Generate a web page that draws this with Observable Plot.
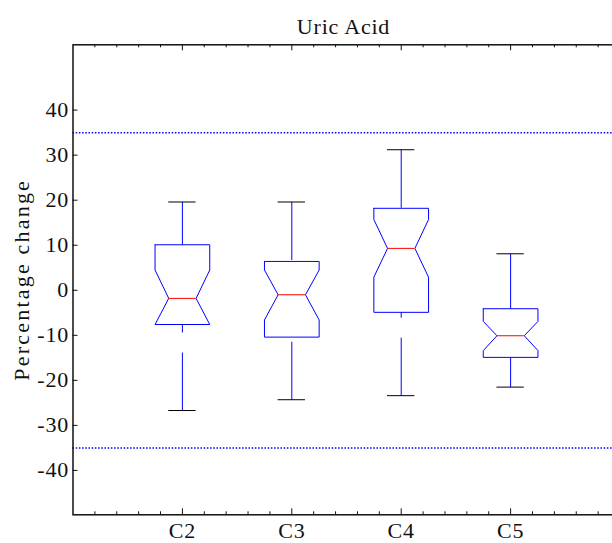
<!DOCTYPE html>
<html><head><meta charset="utf-8">
<script src="https://cdn.jsdelivr.net/npm/d3@7"></script>
<script src="https://cdn.jsdelivr.net/npm/@observablehq/plot@0.6"></script>
<style>html,body{margin:0;padding:0;background:#fff;overflow:hidden}</style>
</head><body><div id="chart"></div>
<script>
// ---- data ----
const title = "Uric Acid";
const yLabel = "Percentage change";
const categories = ["C2", "C3", "C4", "C5"];
const positions = [1, 2, 3, 4];
const whiskerHigh = [19.6, 19.6, 31.2, 8.1];
const q3 = [10.1, 6.4, 18.2, -4.1];
const notchHigh = [4.5, 4.5, 15.7, -6.9];
const median = [-1.8, -1.0, 9.3, -10.1];
const notchLow = [-7.6, -6.6, 2.9, -13.4];
const q1 = [-7.6, -10.4, -4.9, -14.9];
const whiskerLow = [-26.7, -24.3, -23.4, -21.5];
const refLines = [35, -35];
const yTicks = [-40, -30, -20, -10, 0, 10, 20, 30, 40];

// ---- layout ----
const W = 612, H = 543;
const mL = 72.5, mT = 44.3, mB = 28.7, xRight = 613.5;
const frameW = xRight - mL, frameH = H - mT - mB;
const xMax = 4.945;
const halfW = 0.25;

const groups = categories.map((c, i) => ({
  cat: c, pos: positions[i], wh: whiskerHigh[i], q3: q3[i], nh: notchHigh[i],
  med: median[i], nl: notchLow[i], q1: q1[i], wl: whiskerLow[i]
}));
const boxPts = groups.flatMap(g => {
  const c = g.pos, w = halfW;
  return [
    [c - w, g.q3], [c + w, g.q3], [c + w, g.nh], [c + w / 2, g.med], [c + w, g.nl],
    [c + w, g.q1], [c - w, g.q1], [c - w, g.nl], [c - w / 2, g.med], [c - w, g.nh], [c - w, g.q3]
  ].map(([x, y]) => ({cat: g.cat, x, y}));
});
const xAll = d3.range(1, 25).map(i => i / 5);
const xMinor = xAll.filter(v => Math.abs(v - Math.round(v)) > 1e-9);

const plot = Plot.plot({
  width: W, height: H,
  marginLeft: mL, marginTop: mT, marginBottom: mB, marginRight: W - xRight,
  x: {type: "linear", domain: [0, xMax], range: [mL, xRight]},
  y: {domain: [-49.85, 54.5]},
  style: {fontFamily: "'Liberation Serif', serif", fontSize: "22px", color: "#111", background: "#fff", overflow: "hidden", letterSpacing: "0.8px"},
  marks: [
    Plot.ruleY(refLines, {y: d => d, stroke: "#0000ff", strokeWidth: 1.5, strokeDasharray: "1.5,1.7"}),
    Plot.link(groups, {x1: "pos", x2: "pos", y1: "wl", y2: "q1", stroke: "#0000ff", strokeWidth: 1, strokeDasharray: "58,20"}),
    Plot.link(groups, {x1: "pos", x2: "pos", y1: "wh", y2: "q3", stroke: "#0000ff", strokeWidth: 1, strokeDasharray: "58,20"}),
    Plot.line(boxPts, {x: "x", y: "y", z: "cat", stroke: "#0000ff", strokeWidth: 1, curve: "linear"}),
    Plot.ruleY(groups, {y: "med", x1: g => g.pos - halfW / 2, x2: g => g.pos + halfW / 2, stroke: "#ff0000", strokeWidth: 1}),
    Plot.ruleY(groups, {y: "wh", x1: g => g.pos - halfW / 2, x2: g => g.pos + halfW / 2, stroke: "#000", strokeWidth: 1}),
    Plot.ruleY(groups, {y: "wl", x1: g => g.pos - halfW / 2, x2: g => g.pos + halfW / 2, stroke: "#000", strokeWidth: 1}),
    Plot.frame({stroke: "#111", strokeWidth: 1.5}),
    Plot.tickX(xMinor, {x: d => d, insetTop: frameH - 3, stroke: "#111"}),
    Plot.tickX(xMinor, {x: d => d, insetBottom: frameH - 3, stroke: "#111"}),
    Plot.tickX(positions, {x: d => d, insetTop: frameH - 6, stroke: "#111"}),
    Plot.tickX(positions, {x: d => d, insetBottom: frameH - 6, stroke: "#111"}),
    Plot.tickY(yTicks, {y: d => d, insetRight: frameW - 5, stroke: "#111"}),
    Plot.axisY({ticks: yTicks, tickSize: 0, tickPadding: 4, tickFormat: d => String(d), label: null, fontSize: 22}),
    Plot.axisX({ticks: positions, tickSize: 0, tickPadding: 8, tickFormat: d => categories[Math.round(d) - 1], label: null, fontSize: 22}),
    Plot.text([title], {frameAnchor: "top", dy: -11.3, lineAnchor: "bottom", fontSize: 22, fill: "#111"}),
    Plot.text([yLabel], {frameAnchor: "left", dx: 28 - mL, rotate: -90, lineAnchor: "bottom", textAnchor: "middle", fontSize: 22, fill: "#111"})
  ]
});
d3.select(plot).selectAll("text").filter(function () { return this.textContent === yLabel; }).style("letter-spacing", "2.2px");
document.getElementById("chart").appendChild(plot);
</script>
</body></html>
